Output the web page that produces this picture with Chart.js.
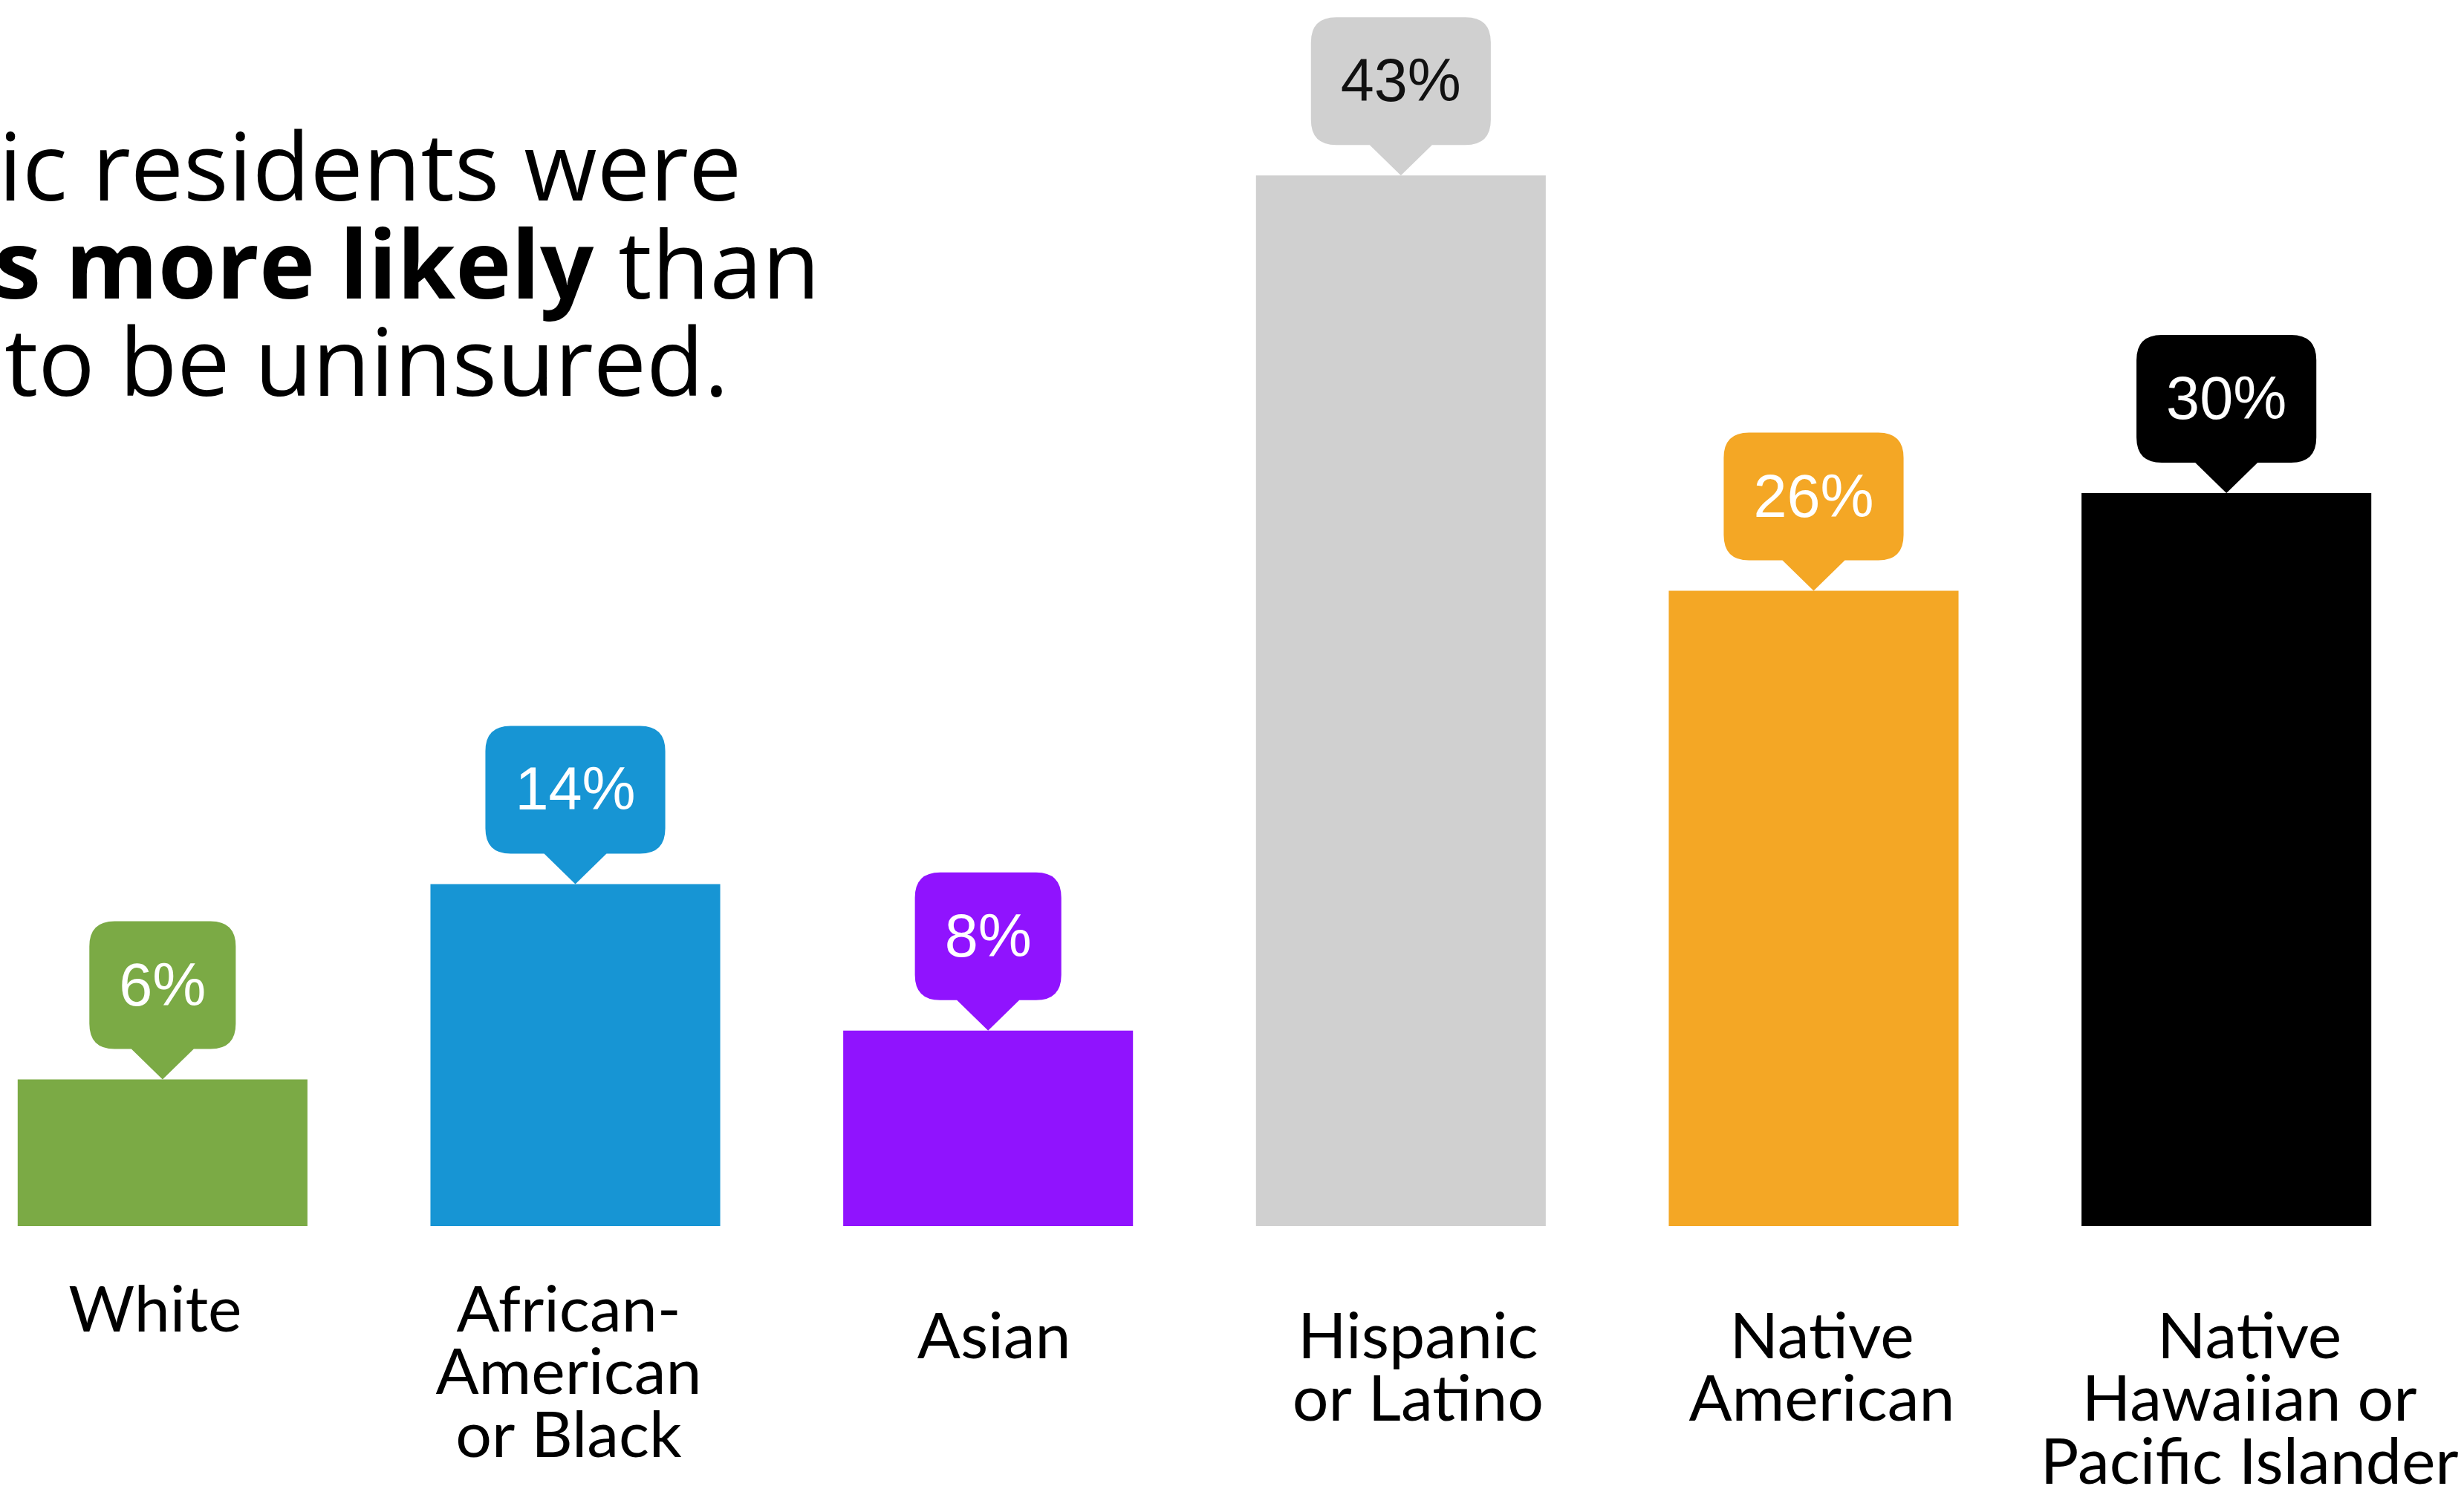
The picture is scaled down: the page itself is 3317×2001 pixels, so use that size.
<!DOCTYPE html>
<html><head><meta charset="utf-8">
<script src="https://cdn.jsdelivr.net/npm/chart.js@4/dist/chart.umd.min.js"></script>
<style>
html,body{margin:0;padding:0;background:#fff;overflow:hidden;width:3317px;height:2001px;}
#wrap{position:absolute;left:-59px;top:0;width:3376px;height:2001px;}
canvas{display:block;}
</style></head><body>
<div id="wrap"><canvas id="c" width="3376" height="2001"></canvas></div>
<script>
// ---- data ----
const categories = [
  ["White"],
  ["African-", "American", "or Black"],
  ["Asian"],
  ["Hispanic", "or Latino"],
  ["Native", "American"],
  ["Native", "Hawaiian or", "Pacific Islander"]
];
const uninsuredPct = [6, 14, 8, 43, 26, 30];
const valueLabels = ["6%", "14%", "8%", "43%", "26%", "30%"];
const titleLine1 = "ic residents were";
const titleLine2Bold = "s more likely";
const titleLine2Rest = " than";
const titleLine3 = "to be uninsured.";

// ---- styles ----
const barColors = ["#7BAA45", "#1795D4", "#9013FE", "#D0D0D0", "#F4A725", "#000000"];
const bubbleTextColors = ["#ffffff", "#ffffff", "#ffffff", "#111111", "#ffffff", "#ffffff"];
const labelShift = [-10, -9, 8, 23, 11, 31];
const labelDrop = [72, 72, 108, 108, 108, 108];
const pageShift = 59;

const scales = { y: { display: false, min: 0, max: 50 } };
categories.forEach((c, i) => {
  scales['x' + i] = {
    type: 'category', position: 'bottom', weight: i, offset: true,
    grid: { display: false, drawTicks: false }, border: { display: false },
    ticks: {
      autoSkip: false, maxRotation: 0, minRotation: 0,
      padding: labelDrop[i], labelOffset: labelShift[i], color: '#000',
      font: { family: 'Lato', size: 86, lineHeight: '84.5px' },
      callback: function (v, idx) { return idx === i ? this.getLabelForValue(v) : ''; }
    },
    afterFit: (s) => { s.height = 0; s.paddingLeft = 0; s.paddingRight = 0; s.paddingTop = 0; s.paddingBottom = 0; }
  };
});

// let the zero-height label axes draw down to the canvas bottom
const axisAreaPlugin = {
  id: 'axisArea',
  afterLayout(chart) {
    Object.values(chart.scales).forEach(s => {
      if (s.axis === 'x') { s.bottom = chart.height; s.height = s.bottom - s.top; }
    });
  }
};

const bubblePlugin = {
  id: 'bubbles',
  afterDatasetsDraw(chart) {
    const ctx = chart.ctx;
    const meta = chart.getDatasetMeta(0);
    ctx.save();
    ctx.font = '81px "Liberation Sans", Arial, sans-serif';
    meta.data.forEach((bar, i) => {
      const x = bar.x, y = bar.y;
      const tw = ctx.measureText(valueLabels[i]).width;
      const w = tw + 80, h = 172, tip = 41, half = 42, r = 34;
      const bottom = y - tip, top = bottom - h, left = x - w / 2, right = x + w / 2;
      ctx.fillStyle = barColors[i];
      ctx.beginPath();
      ctx.moveTo(left + r, top);
      ctx.lineTo(right - r, top);
      ctx.quadraticCurveTo(right, top, right, top + r);
      ctx.lineTo(right, bottom - r);
      ctx.quadraticCurveTo(right, bottom, right - r, bottom);
      ctx.lineTo(x + half, bottom);
      ctx.lineTo(x, y);
      ctx.lineTo(x - half, bottom);
      ctx.lineTo(left + r, bottom);
      ctx.quadraticCurveTo(left, bottom, left, bottom - r);
      ctx.lineTo(left, top + r);
      ctx.quadraticCurveTo(left, top, left + r, top);
      ctx.closePath();
      ctx.fill();
      ctx.fillStyle = bubbleTextColors[i];
      ctx.textAlign = 'center';
      ctx.textBaseline = 'alphabetic';
      ctx.fillText(valueLabels[i], x, top + 113);
    });
    ctx.restore();
  }
};

const titlePlugin = {
  id: 'titleText',
  afterDraw(chart) {
    const ctx = chart.ctx;
    ctx.save();
    ctx.fillStyle = '#000';
    ctx.textAlign = 'left';
    ctx.textBaseline = 'alphabetic';
    const reg = '127px "Open Sans"';
    const bold = 'bold 127px "Open Sans"';
    ctx.font = reg;
    ctx.fillText(titleLine1, pageShift - 2, 270);
    ctx.fillText(titleLine3, pageShift + 6, 533);
    ctx.font = bold;
    const sw = ctx.measureText("s ").width;
    const x2 = pageShift + 88 - sw;
    ctx.fillText(titleLine2Bold, x2, 402);
    const bw = ctx.measureText(titleLine2Bold).width;
    ctx.font = reg;
    ctx.fillText(titleLine2Rest, x2 + bw, 402);
    ctx.restore();
  }
};

function build() {
  new Chart(document.getElementById('c'), {
    type: 'bar',
    data: {
      labels: categories,
      datasets: [{
        data: uninsuredPct, xAxisID: 'x0', yAxisID: 'y',
        backgroundColor: barColors, borderWidth: 0,
        categoryPercentage: 1, barPercentage: 0.702
      }]
    },
    options: {
      responsive: false, devicePixelRatio: 1, animation: false,
      layout: { padding: { left: 0, right: 42, top: 6, bottom: 350 } },
      plugins: { legend: { display: false }, tooltip: { enabled: false }, title: { display: false } },
      scales: scales
    },
    plugins: [axisAreaPlugin, bubblePlugin, titlePlugin]
  });
}
Promise.all([
  document.fonts.load('86px Lato'),
  document.fonts.load('127px "Open Sans"'),
  document.fonts.load('bold 127px "Open Sans"'),
  document.fonts.load('81px "Liberation Sans"')
]).then(build, build);
</script>
</body></html>
